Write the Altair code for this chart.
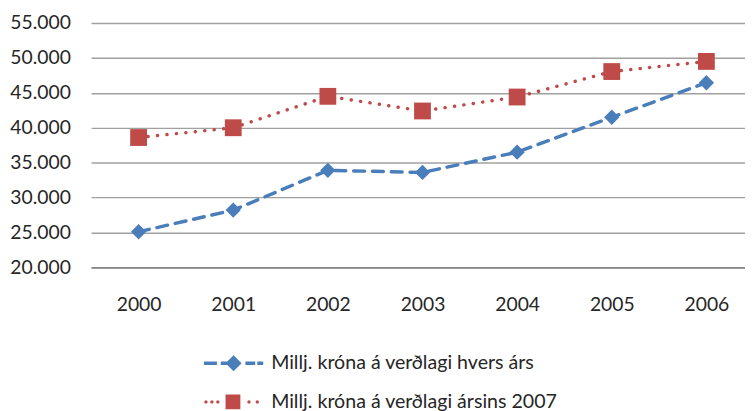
import altair as alt
import pandas as pd

years = [2000, 2001, 2002, 2003, 2004, 2005, 2006]
current_prices = [25100, 28200, 33900, 33600, 36500, 41500, 46450]
prices_2007 = [38600, 40000, 44500, 42400, 44400, 48050, 49500]
series_names = ["Millj. króna á verðlagi hvers árs", "Millj. króna á verðlagi ársins 2007"]
y_ticks = [20000, 25000, 30000, 35000, 40000, 45000, 50000, 55000]
colors = ["#4A7EBB", "#BE4B48"]

rows = []
for yr, a, b in zip(years, current_prices, prices_2007):
    rows.append({"year": yr, "value": a, "series": series_names[0]})
    rows.append({"year": yr, "value": b, "series": series_names[1]})
df = pd.DataFrame(rows)

FONT = "Lato"
TXT = "#262626"

# legend symbols (unit = 30px): dashed line + diamond, dotted line + square
def circ(cx, r):
    return f"M{cx-r},0A{r},{r} 0 1,0 {cx+r},0A{r},{r} 0 1,0 {cx-r},0Z"

t = 0.058
blue_sym = (f"M-1,{-t}H-0.56V{t}H-1Z"
            f"M-0.43,{-t}H0.23V{t}H-0.43Z"
            f"M0,-0.27L0.27,0L0,0.27L-0.27,0Z"
            f"M0.4,{-t}H0.73V{t}H0.4Z"
            f"M0.8,{-t}H1V{t}H0.8Z")
red_sym = (circ(-0.93, 0.055) + circ(-0.73, 0.055) + circ(-0.53, 0.055)
           + "M-0.27,-0.25H0.23V0.25H-0.27Z"
           + circ(0.52, 0.055) + circ(0.8, 0.055))
legend_syms = [blue_sym, red_sym]
legend_y = [334, 373]

x = alt.X("year:Q",
          scale=alt.Scale(domain=[1999.498, 2006.408], nice=False, zero=False),
          axis=alt.Axis(values=years, format="d", grid=False, ticks=False, domain=True,
                        domainColor="#888888", domainWidth=1.6, labelPadding=29,
                        labelFont=FONT, labelFontSize=19.5, labelColor=TXT, title=None,
                        labelFlush=False))
y = alt.Y("value:Q",
          scale=alt.Scale(domain=[20000, 55000], nice=False, zero=False),
          axis=alt.Axis(values=y_ticks, labelExpr="replace(format(datum.value, ','), ',', '.')",
                        grid=True, gridColor="#a0a0a0", gridWidth=1.5, ticks=False, domain=False,
                        labelPadding=21, labelFont=FONT, labelFontSize=19.5, labelColor=TXT,
                        title=None))
color = alt.Color("series:N", scale=alt.Scale(domain=series_names, range=colors), legend=None)

lines = alt.Chart(df).mark_line(strokeWidth=3.5, strokeCap="round").encode(
    x=x, y=y, color=color,
    strokeDash=alt.StrokeDash("series:N",
                              scale=alt.Scale(domain=series_names, range=[[11, 8], [0.1, 9.5]]),
                              legend=None),
)
points = alt.Chart(df).mark_point(filled=True, opacity=1, strokeWidth=0).encode(
    x=x, y=y, color=color,
    shape=alt.Shape("series:N", scale=alt.Scale(domain=series_names, range=["diamond", "square"]),
                    legend=None),
    size=alt.Size("series:N", scale=alt.Scale(domain=series_names, range=[240, 289]), legend=None),
)

legend_layers = []
for name, sym, col, ly in zip(series_names, legend_syms, colors, legend_y):
    lg = alt.Legend(title=None, orient="none", legendX=114, legendY=ly, direction="vertical",
                    labelFont=FONT, labelFontSize=19.8, labelColor=TXT, labelOffset=8,
                    symbolSize=3600, symbolType=sym, symbolStrokeWidth=0, symbolOpacity=1,
                    symbolFillColor=col, clipHeight=20, labelLimit=500)
    legend_layers.append(
        alt.Chart(df).transform_filter("false").mark_point(filled=True, opacity=1, color=col,
                                                           strokeWidth=0).encode(
            x=x, y=y,
            shape=alt.Shape("series:N", scale=alt.Scale(domain=[name], range=[sym]), legend=lg),
        )
    )

chart = alt.layer(lines, points, *legend_layers).resolve_scale(shape="independent").properties(
    width=661, height=247,
    autosize=alt.AutoSizeParams(type="none"),
    padding={"left": 84, "top": 13, "right": 0, "bottom": 143},
    background="white",
).configure_view(stroke=None)

chart.save("out.html", embed_options={"renderer": "svg", "actions": False})
